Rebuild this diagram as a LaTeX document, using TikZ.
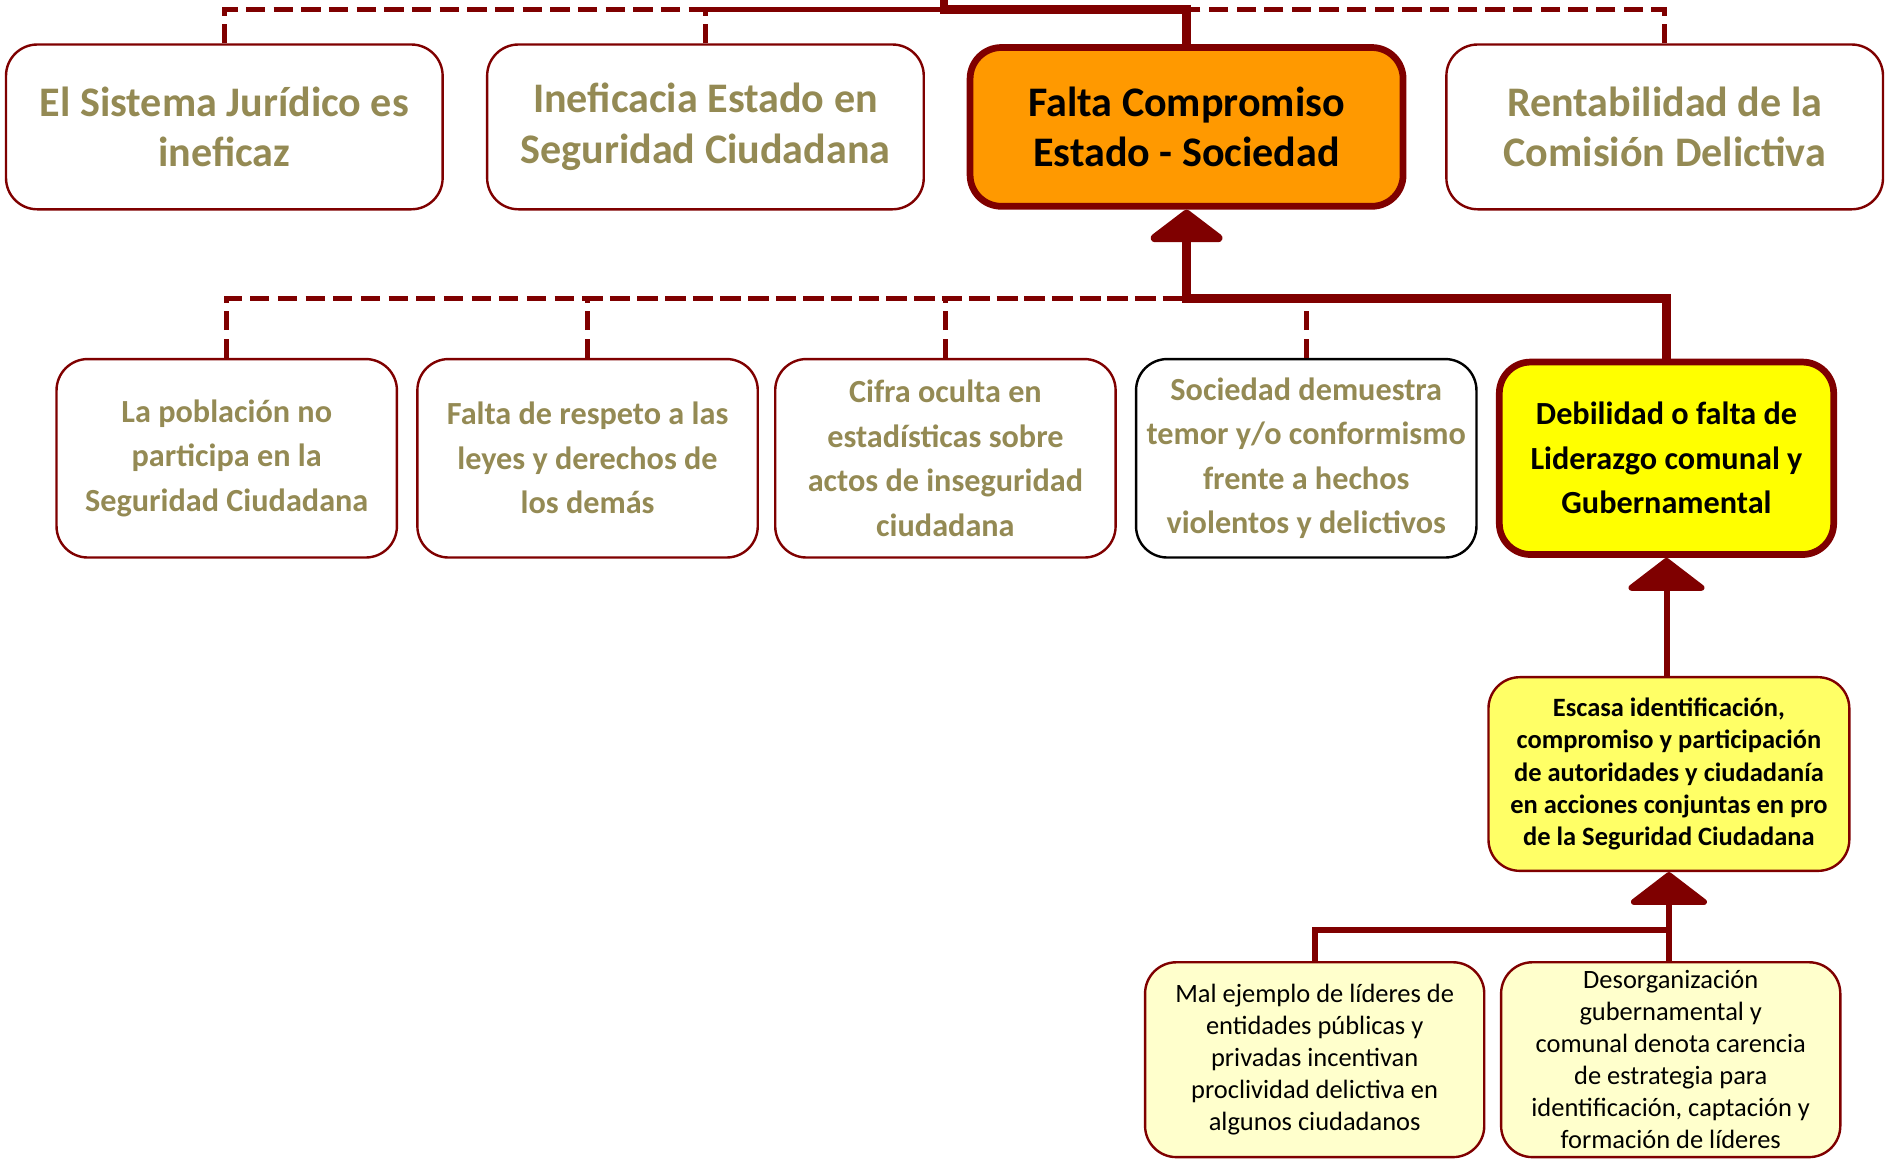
\documentclass[tikz,border=0pt]{standalone}
\usepackage{fontspec}
\setmainfont{Carlito}
\usetikzlibrary{arrows.meta}
\definecolor{dred}{HTML}{7F0000}
\definecolor{olivetext}{HTML}{948A54}
\definecolor{orng}{HTML}{FF9900}
\definecolor{ylw}{HTML}{FFFF00}
\definecolor{lylw}{HTML}{FFFF66}
\definecolor{pylw}{HTML}{FFFFCC}
\begin{document}
\begin{tikzpicture}[x=0.5pt,y=-0.5pt,
  box/.style={draw=dred, line width=1pt, rounded corners=13pt, align=center, inner sep=0pt, text=olivetext},
  topbox/.style={box, minimum width=181.5pt, minimum height=68.5pt, font=\fontsize{17.5}{21}\selectfont\bfseries},
  midbox/.style={box, minimum width=141.5pt, minimum height=82.5pt, font=\fontsize{13.4}{18.5}\selectfont\bfseries},
  keybox/.style={line width=2.8pt, fill=#1, text=black},
  lowbox/.style={box, fill=pylw, text=black, minimum width=141pt, minimum height=81pt, font=\fontsize{11}{13.3}\selectfont},
  dashline/.style={draw=dred, line width=2pt, dash pattern=on 8pt off 3.5pt},
  bigline/.style={draw=dred, line width=3.5pt},
  smallline/.style={draw=dred, line width=2.5pt},
  tip/.style={-{Triangle[width=36pt,length=14pt,round]}}
]
\useasboundingbox (0,0) rectangle (1568,965);

% top row
\node[topbox] (b1) at (186.5,105.5) {El Sistema Jurídico es\\ineficaz};
\node[topbox] (b2) at (586.5,105.5) {Ineficacia Estado en\\Seguridad Ciudadana};
\node[topbox, keybox=orng, minimum width=180pt, minimum height=66pt] (b3) at (986.5,105.5) {Falta Compromiso\\Estado - Sociedad};
\node[topbox] (b4) at (1384,105.5) {Rentabilidad de la\\Comisión Delictiva};

% second row
\node[midbox] (c1) at (188.5,381) {La población no\\participa en la\\Seguridad Ciudadana};
\node[midbox] (c2) at (488.5,381) {Falta de respeto a las\\leyes y derechos de\\los demás};
\node[midbox] (c3) at (786,381) {Cifra oculta en\\estadísticas sobre\\actos de inseguridad\\ciudadana};
\node[midbox, draw=black] (c4) at (1086,381) {Sociedad demuestra\\temor y/o conformismo\\frente a hechos\\violentos y delictivos};
\node[midbox, keybox=ylw, minimum width=139pt, minimum height=80pt] (c5) at (1385.5,381) {Debilidad o falta de\\Liderazgo comunal y\\Gubernamental};

% third level
\node[box, fill=lylw, text=black, minimum width=150pt, minimum height=80.5pt, font=\fontsize{11}{13.4}\selectfont\bfseries] (d1) at (1387.5,643.5) {Escasa identificación,\\compromiso y participación\\de autoridades y ciudadanía\\en acciones conjuntas en pro\\de la Seguridad Ciudadana};

% fourth level
\node[lowbox] (e1) at (1093,881) {Mal ejemplo de líderes de\\entidades públicas y\\privadas incentivan\\proclividad delictiva en\\algunos ciudadanos};
\node[lowbox] (e2) at (1389,881) {Desorganización\\gubernamental y\\comunal denota carencia\\de estrategia para\\identificación, captación y\\formación de líderes};

% coordinates
\coordinate (tin) at (785,-6);
\coordinate (jt) at (785,8);
\coordinate (jb3) at (b3.north |- jt);
\coordinate (j2) at (b3.south |- 0,248);
\coordinate (j3) at (d1.south |- 0,773);

% top connectors
\draw[dashline] (b1.north) |- (jt);
\draw[dashline] (b2.north) |- (jt);
\draw[dashline] (b4.north) |- (jb3);
\draw[bigline] (tin) |- (jb3) -- (b3.north);

% second row connectors
\draw[dashline] (c1.north) |- (j2);
\draw[dashline] (c2.north) |- (j2);
\draw[dashline] (c3.north) |- (j2);
\draw[dashline] (c4.north) |- (j2);
\draw[bigline, tip] (c5.north) |- (j2) -- (b3.south);

% lower connectors
\draw[smallline, tip] (d1.north -| c5.south) -- (c5.south);
\draw[smallline] (e1.north) |- (j3);
\draw[smallline, tip] (d1.south |- e2.north) -- (d1.south);
\end{tikzpicture}
\end{document}
